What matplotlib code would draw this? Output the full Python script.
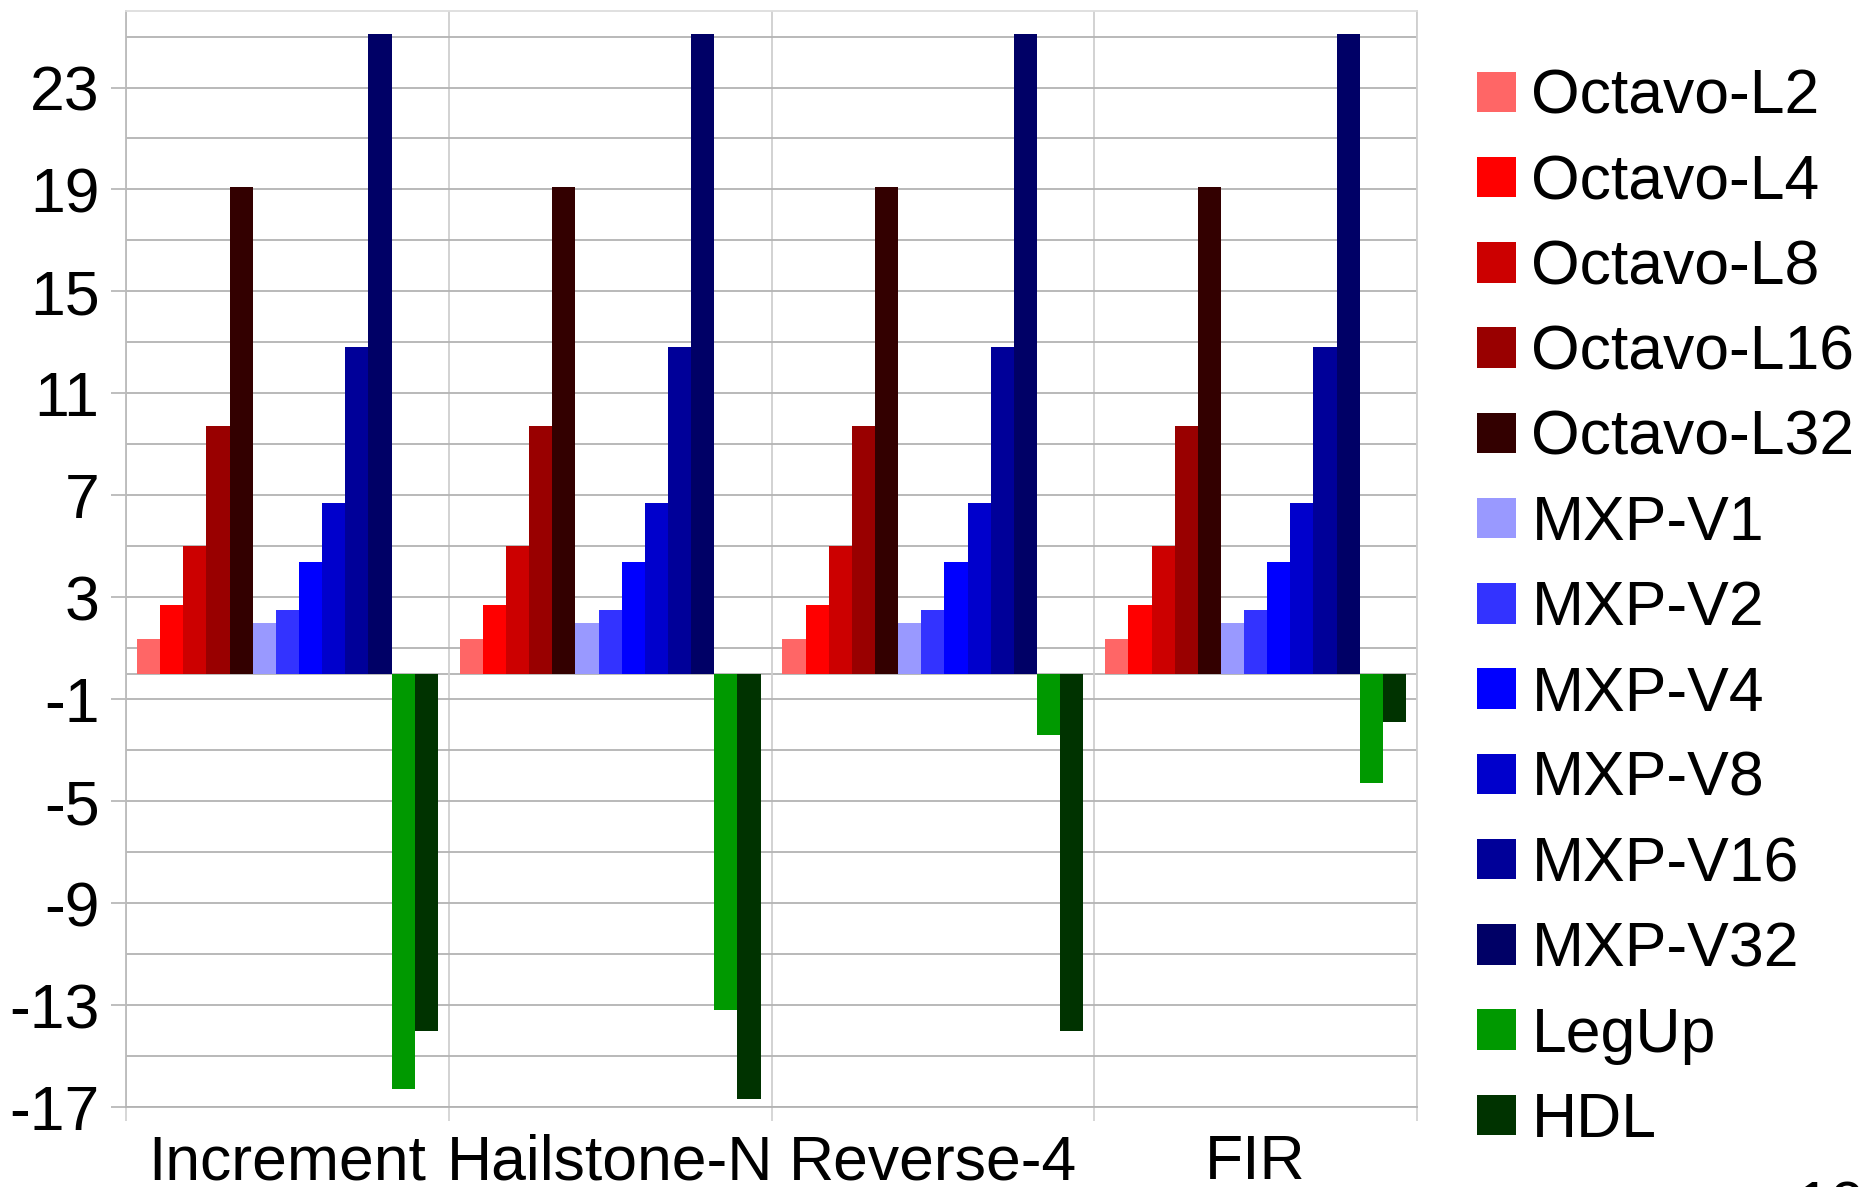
import numpy as np
import matplotlib
matplotlib.use("Agg")
import matplotlib.pyplot as plt

plt.rcParams['font.family'] = ['Liberation Sans', 'DejaVu Sans']
plt.rcParams['axes.unicode_minus'] = False

# Benchmarks on the category axis
benchmarks = ["Increment", "Hailstone-N", "Reverse-4", "FIR"]

# One value per benchmark for every implementation
octavo_l2 = [1.35, 1.35, 1.35, 1.35]
octavo_l4 = [2.7, 2.7, 2.7, 2.7]
octavo_l8 = [5.0, 5.0, 5.0, 5.0]
octavo_l16 = [9.7, 9.7, 9.7, 9.7]
octavo_l32 = [19.1, 19.1, 19.1, 19.1]
mxp_v1 = [2.0, 2.0, 2.0, 2.0]
mxp_v2 = [2.5, 2.5, 2.5, 2.5]
mxp_v4 = [4.4, 4.4, 4.4, 4.4]
mxp_v8 = [6.7, 6.7, 6.7, 6.7]
mxp_v16 = [12.8, 12.8, 12.8, 12.8]
mxp_v32 = [25.1, 25.1, 25.1, 25.1]
legup = [-16.3, -13.2, -2.4, -4.3]
hdl = [-14.0, -16.7, -14.0, -1.9]

series_names = ["Octavo-L2", "Octavo-L4", "Octavo-L8", "Octavo-L16", "Octavo-L32",
                "MXP-V1", "MXP-V2", "MXP-V4", "MXP-V8", "MXP-V16", "MXP-V32",
                "LegUp", "HDL"]
series_values = [octavo_l2, octavo_l4, octavo_l8, octavo_l16, octavo_l32,
                 mxp_v1, mxp_v2, mxp_v4, mxp_v8, mxp_v16, mxp_v32,
                 legup, hdl]
series_colors = ["#ff6666", "#ff0000", "#cc0000", "#990000", "#330000",
                 "#9999ff", "#3333ff", "#0000ff", "#0000cc", "#000099", "#000066",
                 "#009900", "#003300"]

y_ticks = list(range(-17, 24, 4))

FS = 45
GRID = "#b3b3b3"

fig = plt.figure(figsize=(18.64, 11.87), dpi=100)
ax = fig.add_axes([0.0676, 0.0674, 0.6926, 0.9233])

n = len(series_names)
group_frac = 0.932
w = group_frac / n
x = np.arange(len(benchmarks))
handles = []
for i, (name, vals, col) in enumerate(zip(series_names, series_values, series_colors)):
    offs = -group_frac / 2 + w * (i + 0.5)
    b = ax.bar(x + offs, vals, width=w, color=col, label=name, linewidth=0, zorder=3)
    handles.append(b)

ax.set_xlim(-0.5, len(benchmarks) - 0.5)
ax.set_ylim(-17, 26)

# horizontal grid every 2 units, labelled every 4
ax.set_yticks(y_ticks)
ax.set_yticks(np.arange(-17, 26, 2), minor=True)
ax.yaxis.grid(True, which='both', color=GRID, linewidth=1.3, zorder=0)
ax.tick_params(axis='y', which='major', length=11, width=1.2, color=GRID,
               labelsize=FS, pad=8)
ax.tick_params(axis='y', which='minor', length=0)

# category boundaries on the x axis
bounds = np.arange(-0.5, len(benchmarks), 1.0)
ax.set_xticks(bounds)
ax.set_xticks(x, minor=True)
ax.set_xticklabels([])
ax.set_xticklabels(benchmarks, minor=True)
ax.xaxis.grid(True, which='major', color="#cfcfcf", linewidth=1.3, zorder=0)
ax.tick_params(axis='x', which='major', length=10, width=1.2, color="#cfcfcf")
ax.tick_params(axis='x', which='minor', length=0, labelsize=FS, pad=19)

# zero line
ax.axhline(0, color=GRID, linewidth=1.3, zorder=1)

for s in ax.spines.values():
    s.set_color(GRID)
    s.set_linewidth(1.3)
ax.spines['left'].set_color("#bbbbbb")
ax.spines['top'].set_color("#dddddd")
ax.spines['right'].set_color("#cfcfcf")

fig.legend(handles=handles, labels=series_names, loc='center left',
           bbox_to_anchor=(0.7924, 0.487), frameon=False, fontsize=FS,
           handlelength=0.62, handleheight=0.62, handletextpad=0.25,
           labelspacing=0.42, borderpad=0, borderaxespad=0)

fig.text(0.963, 0.006, "10", fontsize=FS, va='top', ha='left')

fig.savefig("out.png", dpi=100)
